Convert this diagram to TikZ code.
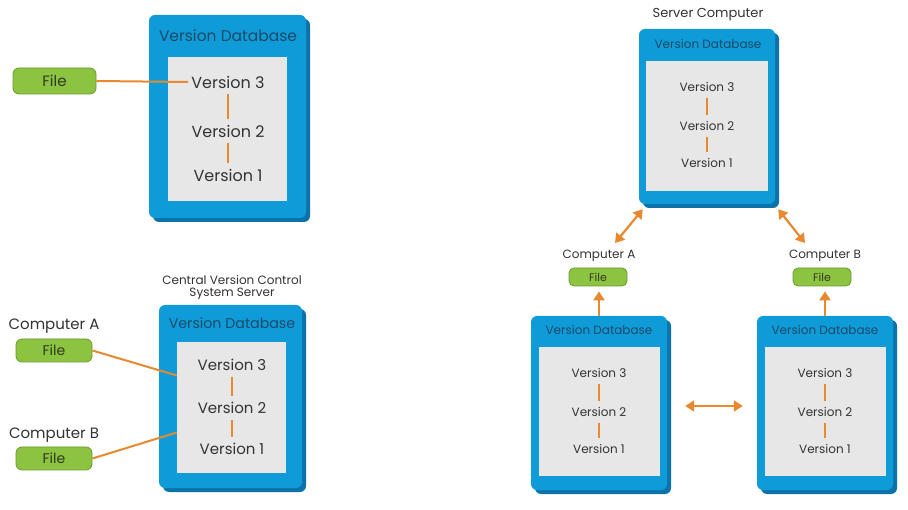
\documentclass[tikz,border=0pt]{standalone}
\usepackage{fontspec}
\setmainfont{Poppins}
\usetikzlibrary{arrows.meta,shadows}

\definecolor{dbblue}{HTML}{0E9BD8}
\definecolor{dbshade}{HTML}{0C73AA}
\definecolor{dbtext}{HTML}{1C4A68}
\definecolor{vergray}{HTML}{E7E7E7}
\definecolor{vertext}{HTML}{333333}
\definecolor{filegreen}{HTML}{8CC441}
\definecolor{filedark}{HTML}{6A9A2C}
\definecolor{filetext}{HTML}{2F3A20}
\definecolor{linkorange}{HTML}{E8892F}

\tikzset{
  dbbox/.style={fill=dbblue, inner sep=0pt, rounded corners=6pt,
    drop shadow={shadow xshift=4pt, shadow yshift=-4pt, opacity=1, fill=dbshade}},
  graybox/.style={fill=vergray, inner sep=0pt},
  dblabel/.style={text=dbtext, inner sep=1pt},
  ver/.style={text=vertext, inner xsep=3pt, inner ysep=6pt},
  who/.style={text=vertext, inner sep=1pt},
  filepill/.style={fill=filegreen, draw=filedark, line width=0.8pt, rounded corners=6pt,
    text=filetext, inner sep=0pt},
  link/.style={draw=linkorange, line width=2pt},
  sync/.style={draw=linkorange, line width=2.2pt,
    {Triangle[width=11pt,length=9pt]}-{Triangle[width=11pt,length=9pt]}},
  push/.style={draw=linkorange, line width=2.2pt, -{Triangle[width=11pt,length=9pt]}},
}

\begin{document}
\begin{tikzpicture}[x=1pt, y=-1pt]
    \useasboundingbox[fill=white] (0,0) rectangle (908,510);

    % local version control
    \node[dbbox, minimum width=157pt, minimum height=203pt] (db1) at (227.5,116.5) {};
    \node[graybox, minimum width=119pt, minimum height=144pt] (g1) at (227.5,129) {};
    \node[dblabel, font=\fontsize{15.5}{18}\selectfont] (t1) at (228,36) {Version Database};
    \node[ver, font=\fontsize{16}{18}\selectfont] (v13) at (228,82) {Version 3};
    \node[ver, font=\fontsize{16}{18}\selectfont] (v12) at (228,131) {Version 2};
    \node[ver, font=\fontsize{16}{18}\selectfont] (v11) at (228,175) {Version 1};
    \node[filepill, minimum width=83pt, minimum height=26pt,
      font=\fontsize{15}{17}\selectfont] (f1) at (54.5,81) {File};
    \draw[link] (f1.east) -- (v13.west);
    \draw[link] (v13) -- (v12);
    \draw[link] (v12) -- (v11);

    % centralized version control
    \node[who, align=center, font=\fontsize{12}{12}\selectfont] (srv2) at (232,287)
      {Central Version Control\\System Server};
    \node[dbbox, minimum width=143pt, minimum height=183pt] (db2) at (230.5,396.5) {};
    \node[graybox, minimum width=109pt, minimum height=131pt] (g2) at (231.5,407.5) {};
    \node[dblabel, font=\fontsize{14.2}{16}\selectfont] (t2) at (232,323) {Version Database};
    \node[ver, font=\fontsize{15}{17}\selectfont] (v23) at (232,365) {Version 3};
    \node[ver, font=\fontsize{15}{17}\selectfont] (v22) at (232,408) {Version 2};
    \node[ver, font=\fontsize{15}{17}\selectfont] (v21) at (232,449) {Version 1};
    \draw[link] (v23) -- (v22);
    \draw[link] (v22) -- (v21);
    \node[who, font=\fontsize{15}{17}\selectfont] (ca2) at (54,326) {Computer A};
    \node[filepill, minimum width=76pt, minimum height=23pt,
      font=\fontsize{14}{16}\selectfont] (fa2) at (54,350.5) {File};
    \node[who, font=\fontsize{15}{17}\selectfont] (cb2) at (54,435) {Computer B};
    \node[filepill, minimum width=76pt, minimum height=23pt,
      font=\fontsize{14}{16}\selectfont] (fb2) at (54,458.5) {File};
    \draw[link] (fa2.east) -- ([yshift=32pt]g2.west);
    \draw[link] (fb2.east) -- ([yshift=-25pt]g2.west);

    % distributed version control
    \node[who, font=\fontsize{13}{15}\selectfont] (srv3) at (708,15) {Server Computer};
    \node[dbbox, minimum width=136pt, minimum height=175pt] (db3) at (707,116.5) {};
    \node[graybox, minimum width=122pt, minimum height=130pt] (g3) at (707,126) {};
    \node[dblabel, font=\fontsize{12}{14}\selectfont] (t3) at (708,44) {Version Database};
    \node[ver, font=\fontsize{12}{14}\selectfont] (v33) at (707,87) {Version 3};
    \node[ver, font=\fontsize{12}{14}\selectfont] (v32) at (707,126) {Version 2};
    \node[ver, font=\fontsize{12}{14}\selectfont] (v31) at (707,163) {Version 1};
    \draw[link] (v33) -- (v32);
    \draw[link] (v32) -- (v31);

    \node[dbbox, minimum width=136pt, minimum height=174pt] (dba) at (599,403) {};
    \node[graybox, minimum width=121pt, minimum height=129pt] (ga) at (599.5,411.5) {};
    \node[dblabel, font=\fontsize{12}{14}\selectfont] (ta) at (599,330) {Version Database};
    \node[ver, font=\fontsize{12}{14}\selectfont] (va3) at (599,373) {Version 3};
    \node[ver, font=\fontsize{12}{14}\selectfont] (va2) at (599,412) {Version 2};
    \node[ver, font=\fontsize{12}{14}\selectfont] (va1) at (599,449) {Version 1};
    \draw[link] (va3) -- (va2);
    \draw[link] (va2) -- (va1);
    \node[who, font=\fontsize{12}{14}\selectfont] (ca3) at (599,256) {Computer A};
    \node[filepill, minimum width=58pt, minimum height=18pt, rounded corners=5pt,
      font=\fontsize{11}{13}\selectfont] (fa3) at (598,277) {File};

    \node[dbbox, minimum width=136pt, minimum height=174pt] (dbb) at (825,403) {};
    \node[graybox, minimum width=121pt, minimum height=129pt] (gb) at (825,411.5) {};
    \node[dblabel, font=\fontsize{12}{14}\selectfont] (tb) at (825,330) {Version Database};
    \node[ver, font=\fontsize{12}{14}\selectfont] (vb3) at (825,373) {Version 3};
    \node[ver, font=\fontsize{12}{14}\selectfont] (vb2) at (825,412) {Version 2};
    \node[ver, font=\fontsize{12}{14}\selectfont] (vb1) at (825,449) {Version 1};
    \draw[link] (vb3) -- (vb2);
    \draw[link] (vb2) -- (vb1);
    \node[who, font=\fontsize{12}{14}\selectfont] (cb3) at (825,256) {Computer B};
    \node[filepill, minimum width=58pt, minimum height=18pt, rounded corners=5pt,
      font=\fontsize{11}{13}\selectfont] (fb3) at (822,277) {File};

    \draw[push, shorten >=5pt] (dba.north) -- (fa3.south -| dba.north);
    \draw[push, shorten >=5pt] (dbb.north) -- (fb3.south -| dbb.north);
    \draw[sync] ([xshift=18pt,yshift=-3pt]dba.east) -- ([xshift=-14pt,yshift=-3pt]dbb.west);
    \draw[sync] ([xshift=4pt,yshift=-5pt]db3.south west) -- ([xshift=16pt,yshift=6pt]ca3.north);
    \draw[sync] ([xshift=3pt,yshift=-5pt]db3.south east) -- ([xshift=-20pt,yshift=6pt]cb3.north);
\end{tikzpicture}
\end{document}
